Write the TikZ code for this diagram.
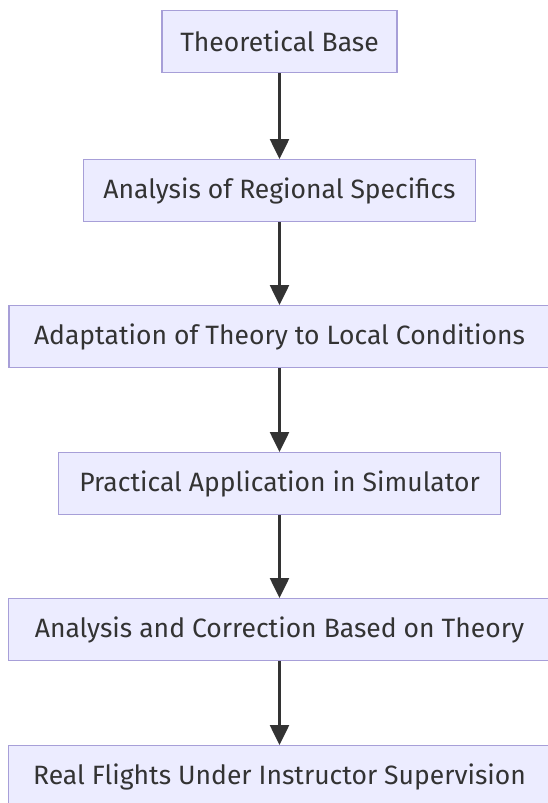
\documentclass[tikz,border=0pt]{standalone}
\usepackage{fontspec}
\setmainfont{Fira Sans}
\usetikzlibrary{arrows.meta}
\definecolor{boxfill}{HTML}{ECECFF}
\definecolor{boxline}{HTML}{A79FD8}
\definecolor{ink}{HTML}{333333}
\begin{document}
\begin{tikzpicture}[x=1pt,y=1pt,
  flowbox/.style={draw=boxline, fill=boxfill, line width=1.3pt, minimum height=62pt,
    inner sep=0pt, text=ink, font=\fontsize{26.5}{30}\selectfont, anchor=north},
  flowarrow/.style={draw=ink, line width=2.6pt, -{Triangle[length=20pt,width=19pt]}}]
\useasboundingbox (0,0) rectangle (547,-803);
\fill[white] (0,0) rectangle (547,-803);
\node[flowbox, minimum width=235pt] (a) at (279.5,-10) {Theoretical Base};
\node[flowbox, minimum width=392pt] (b) at (279.5,-159) {Analysis of Regional Specifics};
\node[flowbox, minimum width=541pt] (c) at (279.5,-305) {Adaptation of Theory to Local Conditions};
\node[flowbox, minimum width=442pt] (d) at (279.5,-452) {Practical Application in Simulator};
\node[flowbox, minimum width=542pt] (e) at (279.5,-598) {Analysis and Correction Based on Theory};
\node[flowbox, minimum width=542pt] (f) at (279.5,-745) {Real Flights Under Instructor Supervision};
\draw[flowarrow] (a.south) -- (b.north);
\draw[flowarrow] (b.south) -- (c.north);
\draw[flowarrow] (c.south) -- (d.north);
\draw[flowarrow] (d.south) -- (e.north);
\draw[flowarrow] (e.south) -- (f.north);
\end{tikzpicture}
\end{document}
